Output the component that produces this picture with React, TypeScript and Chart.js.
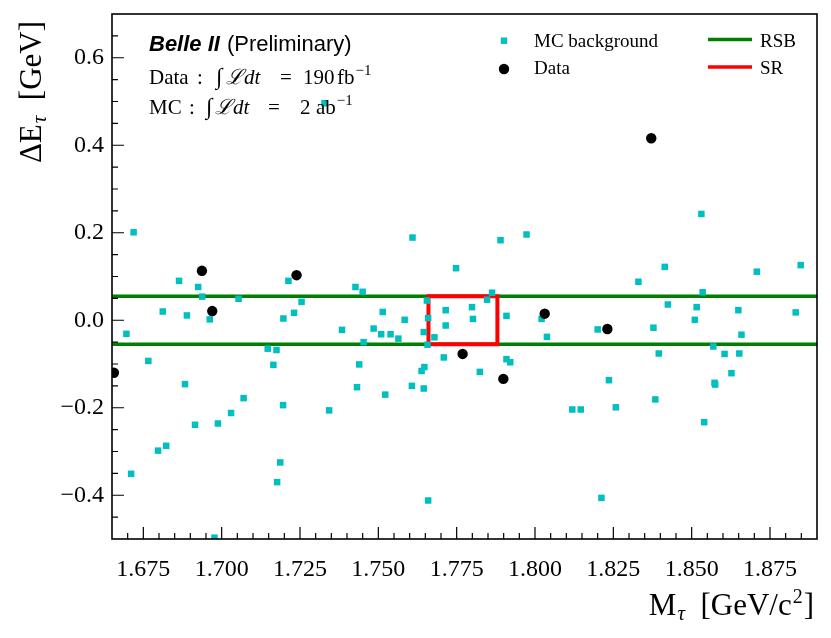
import React, { useEffect, useRef } from "react";
import { Chart, registerables } from "chart.js";

Chart.register(...registerables);

// ---------- data ----------
const mcMass = [
  1.7328, 1.6719, 1.6864, 1.6925, 1.6938, 1.7054, 1.6812, 1.6889, 1.6962, 1.7213,
  1.7231, 1.7197, 1.7255, 1.7384, 1.6696, 1.6766, 1.7147, 1.7175, 1.7165, 1.6883,
  1.707, 1.6711, 1.6797, 1.6823, 1.6915, 1.6988, 1.703, 1.7196, 1.7187, 1.7177,
  1.7343, 1.6977, 1.7609, 1.789, 1.7973, 1.7748, 1.7427, 1.745, 1.7863, 1.7847,
  1.7655, 1.7715, 1.7799, 1.7802, 1.7514, 1.7584, 1.7659, 1.7715, 1.7909, 1.8021,
  1.8038, 1.7485, 1.7509, 1.7539, 1.7564, 1.7645, 1.7679, 1.7453, 1.7657, 1.7709,
  1.7909, 1.7921, 1.7439, 1.7824, 1.7647, 1.7638, 1.7432, 1.7607, 1.7645, 1.7522,
  1.8119, 1.8146, 1.7659, 1.8531, 1.8414, 1.833, 1.8708, 1.8848, 1.8535, 1.8424,
  1.8516, 1.8649, 1.8832, 1.851, 1.82, 1.8378, 1.8659, 1.8569, 1.8395, 1.8605,
  1.8652, 1.8627, 1.8236, 1.8573, 1.8575, 1.8384, 1.8258, 1.854, 1.8212,
];
const mcDeltaE = [
  0.496, 0.201, 0.09, 0.076, 0.054, 0.049, 0.02, 0.011, 0.002, 0.09,
  0.017, 0.004, 0.042, -0.022, -0.031, -0.093, -0.065, -0.068, -0.102, -0.146,
  -0.178, -0.351, -0.298, -0.287, -0.239, -0.236, -0.212, -0.194, -0.325, -0.37,
  -0.206, -0.497, 0.189, 0.183, 0.196, 0.119, 0.076, 0.065, 0.063, 0.047,
  0.045, 0.023, 0.03, 0.003, 0.019, 0.001, 0.005, -0.012, 0.01, 0.003,
  -0.038, -0.019, -0.032, -0.032, -0.042, -0.027, -0.039, -0.05, -0.056, -0.085,
  -0.089, -0.096, -0.101, -0.118, -0.107, -0.116, -0.153, -0.15, -0.156, -0.17,
  -0.204, -0.204, -0.412, 0.243, 0.122, 0.088, 0.111, 0.126, 0.064, 0.036,
  0.03, 0.023, 0.018, 0.001, -0.021, -0.017, -0.033, -0.06, -0.076, -0.077,
  -0.076, -0.121, -0.137, -0.143, -0.147, -0.181, -0.199, -0.233, -0.406,
];
const dataMass = [1.6937, 1.7239, 1.697, 1.6656, 1.8371, 1.8031, 1.7769, 1.7899, 1.8231];
const dataDeltaE = [0.113, 0.103, 0.021, -0.12, 0.416, 0.015, -0.077, -0.134, -0.02];

const rsbDeltaE = [0.055, -0.055];
const srMass = [1.766, 1.788];
const srDeltaE = [-0.055, 0.055];

const massRange = [1.665, 1.89];
const deltaERange = [-0.5, 0.7];
const massTicks = [1.675, 1.7, 1.725, 1.75, 1.775, 1.8, 1.825, 1.85, 1.875];
const deltaETicks = [-0.4, -0.2, 0.0, 0.2, 0.4, 0.6];
const massMinorStep = 0.005;
const deltaEMinorStep = 0.05;

const legendLabels = ["MC background", "Data", "RSB", "SR"];

// ---------- styles ----------
const SERIF = '"Liberation Serif", "DejaVu Serif", serif';
const SANS = '"Liberation Sans", Arial, sans-serif';
const CYAN = "#00BFBF";
const GREEN = "#008000";
const RED = "#FF0000";

type Seg = { t: string; font: string; dy?: number; at?: number; gap?: number };

function richWidth(ctx: CanvasRenderingContext2D, segs: Seg[]) {
  let w = 0;
  for (const s of segs) {
    ctx.font = s.font;
    w += ctx.measureText(s.t).width + (s.gap || 0);
  }
  return w;
}

function drawRich(ctx: CanvasRenderingContext2D, x: number, y: number, segs: Seg[]) {
  let cx = x;
  for (const s of segs) {
    ctx.font = s.font;
    if (s.at !== undefined) cx = x + s.at;
    cx += s.gap || 0;
    ctx.fillText(s.t, cx, y + (s.dy || 0));
    cx += ctx.measureText(s.t).width;
  }
  return cx;
}

const fmtMinus = (v: number, d: number) => {
  const s = Math.abs(v).toFixed(d);
  return v < -1e-9 ? "\u2212" + s : s;
};

const decorPlugin = {
  id: "decor",
  afterDatasetsDraw(chart: any) {
    const ctx: CanvasRenderingContext2D = chart.ctx;
    const { left, right, top, bottom } = chart.chartArea;
    const xs = chart.scales.x;
    const ys = chart.scales.y;
    ctx.save();
    ctx.strokeStyle = "#000";
    ctx.fillStyle = "#000";

    // ticks (inward)
    ctx.lineWidth = 1.2;
    const eps = 1e-9;
    ctx.beginPath();
    for (let v = massRange[0]; v <= massRange[1] + eps; v += massMinorStep) {
      const px = xs.getPixelForValue(v);
      if (px <= left + 1 || px >= right - 1) continue;
      const major = massTicks.some((t) => Math.abs(t - v) < 1e-6);
      const len = major ? 12 : 6;
      ctx.moveTo(px, bottom);
      ctx.lineTo(px, bottom - len);
    }
    for (let v = deltaERange[0]; v <= deltaERange[1] + eps; v += deltaEMinorStep) {
      const py = ys.getPixelForValue(v);
      if (py <= top + 1 || py >= bottom - 1) continue;
      const major = deltaETicks.some((t) => Math.abs(t - v) < 1e-6);
      const len = major ? 12 : 6;
      ctx.moveTo(left, py);
      ctx.lineTo(left + len, py);
    }
    ctx.stroke();

    // frame
    ctx.lineWidth = 1.6;
    ctx.strokeRect(left, top, right - left, bottom - top);

    // annotation block
    ctx.textBaseline = "alphabetic";
    ctx.textAlign = "left";
    const ax = left + 37;
    const endX = drawRich(ctx, ax, top + 37, [
      { t: "Belle II", font: `italic bold 22px ${SANS}` },
    ]);
    drawRich(ctx, endX + 7, top + 37, [{ t: "(Preliminary)", font: `22px ${SANS}` }]);
    const f = `21px ${SERIF}`;
    const fi = `italic 21px ${SERIF}`;
    const fInt = `23px ${SERIF}`;
    const fs = `15px ${SERIF}`;
    drawRich(ctx, ax, top + 69.5, [
      { t: "Data", font: f, at: 0 },
      { t: ":", font: f, at: 48 },
      { t: "\u222B", font: fInt, at: 67 },
      { t: "\u2112", font: fi, at: 77 },
      { t: "dt", font: fi, gap: 1 },
      { t: "=", font: f, at: 131 },
      { t: "190", font: f, at: 154 },
      { t: "fb", font: f, at: 188 },
      { t: "\u22121", font: fs, dy: -9, gap: 1 },
    ]);
    drawRich(ctx, ax, top + 100, [
      { t: "MC", font: f, at: 0 },
      { t: ":", font: f, at: 40 },
      { t: "\u222B", font: fInt, at: 57 },
      { t: "\u2112", font: fi, at: 66 },
      { t: "dt", font: fi, gap: 1 },
      { t: "=", font: f, at: 119 },
      { t: "2", font: f, at: 151 },
      { t: "ab", font: f, at: 167 },
      { t: "\u22121", font: fs, dy: -9, gap: 1 },
    ]);

    // legend
    const lf = `19px ${SERIF}`;
    ctx.font = lf;
    ctx.fillStyle = CYAN;
    ctx.fillRect(504 - 3.2, 40.7 - 3.2, 6.4, 6.4);
    ctx.fillStyle = "#000";
    ctx.beginPath();
    ctx.arc(504, 69, 5.2, 0, Math.PI * 2);
    ctx.fill();
    ctx.fillText(legendLabels[0], 534, 46.7);
    ctx.fillText(legendLabels[1], 534, 74);
    ctx.lineWidth = 3.5;
    ctx.strokeStyle = GREEN;
    ctx.beginPath();
    ctx.moveTo(708, 39.5);
    ctx.lineTo(752, 39.5);
    ctx.stroke();
    ctx.strokeStyle = RED;
    ctx.beginPath();
    ctx.moveTo(708, 67);
    ctx.lineTo(752, 67);
    ctx.stroke();
    ctx.fillText(legendLabels[2], 760, 46.7);
    ctx.fillText(legendLabels[3], 760, 74);

    // x axis title (right aligned)
    const tf = `31px ${SERIF}`;
    const tfi = `italic 21px ${SERIF}`;
    const tfs = `20px ${SERIF}`;
    const xSegs: Seg[] = [
      { t: "M", font: tf },
      { t: "\u03C4", font: tfi, dy: 5, gap: 1 },
      { t: "  [GeV/c", font: tf },
      { t: "2", font: tfs, dy: -12, gap: 1 },
      { t: "]", font: tf, gap: 1 },
    ];
    const xw = richWidth(ctx, xSegs);
    drawRich(ctx, right - 3 - xw, 615, xSegs);

    // y axis title (rotated, aligned to top)
    const ySegs: Seg[] = [
      { t: "\u0394E", font: tf },
      { t: "\u03C4", font: tfi, dy: 5, gap: 1 },
      { t: "  [GeV]", font: tf },
    ];
    const yw = richWidth(ctx, ySegs);
    ctx.translate(41, top + 7);
    ctx.rotate(-Math.PI / 2);
    drawRich(ctx, -yw, 0, ySegs);
    ctx.restore();
  },
};

export default function App() {
  const ref = useRef<HTMLCanvasElement | null>(null);
  useEffect(() => {
    if (!ref.current) return;
    const chart = new Chart(ref.current, {
      type: "scatter",
      data: {
        datasets: [
          {
            label: legendLabels[1],
            data: dataMass.map((x, i) => ({ x, y: dataDeltaE[i] })),
            pointStyle: "circle",
            pointRadius: 5.2,
            backgroundColor: "#000",
            borderWidth: 0,
            order: 0,
          },
          {
            label: legendLabels[0],
            data: mcMass.map((x, i) => ({ x, y: mcDeltaE[i] })),
            pointStyle: "rect",
            pointRadius: 4.6,
            backgroundColor: CYAN,
            borderWidth: 0,
            order: 1,
          },
          {
            label: legendLabels[3],
            data: [
              { x: srMass[0], y: srDeltaE[0] },
              { x: srMass[0], y: srDeltaE[1] },
              { x: srMass[1], y: srDeltaE[1] },
              { x: srMass[1], y: srDeltaE[0] },
              { x: srMass[0], y: srDeltaE[0] },
            ],
            showLine: true,
            borderColor: RED,
            borderWidth: 4,
            borderJoinStyle: "miter",
            pointRadius: 0,
            order: 2,
          },
          {
            label: legendLabels[2],
            data: [
              { x: massRange[0], y: rsbDeltaE[0] },
              { x: massRange[1], y: rsbDeltaE[0] },
            ],
            showLine: true,
            borderColor: GREEN,
            borderWidth: 3.5,
            pointRadius: 0,
            order: 3,
          },
          {
            label: legendLabels[2] + " low",
            data: [
              { x: massRange[0], y: rsbDeltaE[1] },
              { x: massRange[1], y: rsbDeltaE[1] },
            ],
            showLine: true,
            borderColor: GREEN,
            borderWidth: 3.5,
            pointRadius: 0,
            order: 3,
          },
        ],
      } as any,
      options: {
        animation: false,
        responsive: false,
        maintainAspectRatio: false,
        events: [],
        layout: { padding: { top: 14, right: 14, left: 0, bottom: 0 } },
        plugins: { legend: { display: false }, tooltip: { enabled: false } },
        scales: {
          x: {
            type: "linear",
            min: massRange[0],
            max: massRange[1],
            grid: { display: false, drawTicks: false },
            border: { display: false },
            afterBuildTicks: (s: any) => {
              s.ticks = massTicks.map((v) => ({ value: v }));
            },
            afterFit: (s: any) => {
              s.height = 99;
              s.paddingLeft = 0;
              s.paddingRight = 0;
            },
            ticks: {
              autoSkip: false,
              maxRotation: 0,
              padding: 16,
              color: "#000",
              font: { family: SERIF, size: 24 },
              callback: (v: any) => Number(v).toFixed(3),
            },
          },
          y: {
            type: "linear",
            min: deltaERange[0],
            max: deltaERange[1],
            grid: { display: false, drawTicks: false },
            border: { display: false },
            afterBuildTicks: (s: any) => {
              s.ticks = deltaETicks.map((v) => ({ value: v }));
            },
            afterFit: (s: any) => {
              s.width = 112;
              s.paddingTop = 0;
              s.paddingBottom = 0;
            },
            ticks: {
              autoSkip: false,
              padding: 8,
              color: "#000",
              font: { family: SERIF, size: 24 },
              callback: (v: any) => fmtMinus(Number(v), 1),
            },
          },
        },
      } as any,
      plugins: [decorPlugin],
    });
    return () => chart.destroy();
  }, []);
  return (
    <div style={{ position: "fixed", left: 0, top: 0, width: 831, height: 638, background: "#fff" }}>
      <canvas ref={ref} width={831} height={638} style={{ width: 831, height: 638, display: "block" }} />
    </div>
  );
}
